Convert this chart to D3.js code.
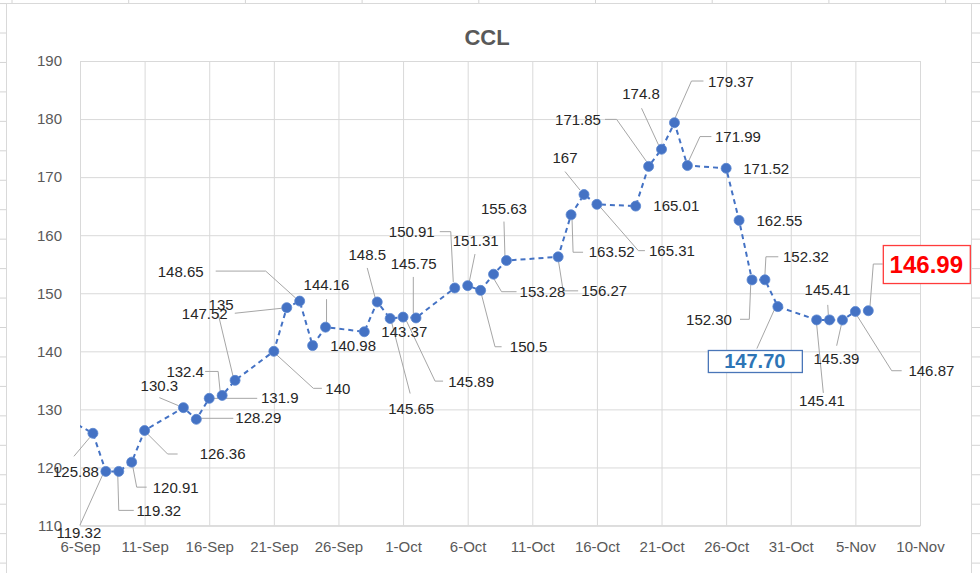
<!DOCTYPE html>
<html><head><meta charset="utf-8">
<script src="https://cdn.jsdelivr.net/npm/d3@7/dist/d3.min.js"></script>
<style>body{margin:0;background:#fff}svg{display:block}</style>
</head><body>
<svg id="chart" width="980" height="573"></svg>
<script>
// ---- data ----
const dates = ["2020-09-04","2020-09-07","2020-09-08","2020-09-09","2020-09-10","2020-09-11",
  "2020-09-14","2020-09-15","2020-09-16","2020-09-17","2020-09-18",
  "2020-09-21","2020-09-22","2020-09-23","2020-09-24","2020-09-25",
  "2020-09-28","2020-09-29","2020-09-30","2020-10-01","2020-10-02",
  "2020-10-05","2020-10-06","2020-10-07","2020-10-08","2020-10-09",
  "2020-10-13","2020-10-14","2020-10-15","2020-10-16",
  "2020-10-19","2020-10-20","2020-10-21","2020-10-22","2020-10-23",
  "2020-10-26","2020-10-27","2020-10-28","2020-10-29","2020-10-30",
  "2020-11-02","2020-11-03","2020-11-04","2020-11-05","2020-11-06"];
const values = [129.6,125.88,119.32,119.32,120.91,126.36,
  130.3,128.29,131.9,132.4,135,
  140,147.52,148.65,140.98,144.16,
  143.37,148.5,145.65,145.89,145.75,
  150.91,151.31,150.5,153.28,155.63,
  156.27,163.52,167,165.31,
  165.01,171.85,174.8,179.37,171.99,
  171.52,162.55,152.30,152.32,147.70,
  145.41,145.41,145.39,146.87,146.99];
const labelTexts = ["","125.88","119.32","119.32","120.91","126.36",
  "130.3","128.29","131.9","132.4","135",
  "140","147.52","148.65","140.98","144.16",
  "143.37","148.5","145.65","145.89","145.75",
  "150.91","151.31","150.5","153.28","155.63",
  "156.27","163.52","167","165.31",
  "165.01","171.85","174.8","179.37","171.99",
  "171.52","162.55","152.30","152.32","147.70",
  "145.41","145.41","145.39","146.87","146.99"];
const yTicks = [110,120,130,140,150,160,170,180,190];
const xTickLabels = ["6-Sep","11-Sep","16-Sep","21-Sep","26-Sep","1-Oct","6-Oct","11-Oct","16-Oct","21-Oct","26-Oct","31-Oct","5-Nov","10-Nov"];
const title = "CCL";

// ---- label layout (pixel offsets from each point; leader polyline relative to point) ----
const labelLayout = [
  null,
  [-17,38,[[-19,23],[-3,4]]],
  [-27,61,[[-26,54],[-3,3]]],
  [40,39,[[15,39],[0,39],[-1,4]]],
  [44,25,[[15,25],[5,25],[1,4]]],
  [78,23,[[33,23.5],[23,23.5],[3,3.5]]],
  [-24,-22,[[-24,-10],[-5,-2]]],
  [62,-2,[[37,-1],[3,-1]]],
  [70.5,-1,[[48,0],[4,0]]],
  [-37,-24,[[-17,-24],[-4,-24],[-2,-4]]],
  [-14,-76,[[-17,-67],[-2,-4]]],
  [64,37,[[48,37],[39.5,37],[3,3.7]]],
  [-82,5.6,[[-52,5.6],[-5,0.6]]],
  [-119,-29,[[-84,-30],[-34,-30],[-4,-3]]],
  [40.5,0,null],
  [1,-43,[[1,-28],[1,-4]]],
  [40,0,null],
  [-10,-47,[[-10,-34],[-2,-4]]],
  [21,90.5,[[20,75],[1.5,4]]],
  [68,64.6,[[40,64],[32,64],[3,3]]],
  [-2.3,-54.6,[[-2.7,-41],[-2.7,-4.6]]],
  [-43,-56.3,[[-15,-56.3],[-4,-56.3],[-1.5,-6]]],
  [8,-45,[[7.3,-31.6],[1.6,-4]]],
  [48,56.4,[[21,56.4],[14.4,56.4],[1,4.7]]],
  [49,17,[[23,17.5],[8,17.5],[0,4]]],
  [-2.5,-51.6,[[-2.5,-39],[-1.5,-4]]],
  [46,34,[[20,34],[5,34],[0.3,4]]],
  [40.6,37,[[12,37.5],[2,37.5],[1,5]]],
  [-19,-37,[[-19,-23],[-4,-4.5]]],
  [75,46,[[48,46.3],[41.4,46.3],[3,2.3]]],
  [40.6,0,null],
  [-70.6,-46.4,[[-43.6,-47],[-32,-47],[-2,-4.7]]],
  [-20.5,-55.3,[[-20,-41],[-3,-4.3]]],
  [56.5,-41,[[29,-41.7],[17,-41.7],[0.5,-4.4]]],
  [50.6,-29,[[24,-29],[12.6,-29],[1,-4]]],
  [40,0.7,null],
  [40.4,0,null],
  [-43,39.4,[[-12,39.4],[-2.7,39.4],[-1.3,5]]],
  [41,-23,[[13.4,-23],[1,-23],[0,-5]]],
  [-23,54.4,[[-21,42],[-3,2]]],
  [5.4,81,[[6.7,73],[0,4]]],
  [-2,-30,[[-1.8,-15],[-1.2,-5]]],
  [-6,39,[[-5.8,25.7],[-0.8,3.3]]],
  [76,59.3,[[46.3,59.3],[36.3,59.3],[1.3,3.6]]],
  [58,-46.7,[[14.4,-46.7],[5,-46.7],[1.7,-4.7]]]
];
const boxedLabels = {39:{text:"#2e75b6",stroke:"#4a76b8",size:20,w:94,h:22},
                     44:{text:"#ff0000",stroke:"#ff3b3b",size:24,w:87,h:38}};

// ---- drawing ----
const svg = d3.select("#chart");
const W = 980, H = 573;
const FONT = "'Liberation Sans', Arial, sans-serif";
const parse = d3.utcParse("%Y-%m-%d");
const pts = dates.map((d,i)=>({date:parse(d), v:values[i], i}));
const x0 = parse("2020-09-06"), x1 = parse("2020-11-10");
const L = 80, R = 920, T = 61, B = 525.5;
const x = d3.scaleUtc().domain([x0,x1]).range([L,R]);
const y = d3.scaleLinear().domain([110,190]).range([B,T]);
const tickDates = xTickLabels.map((_,k)=>d3.utcDay.offset(x0,5*k));

// spreadsheet cells behind chart
const bg = svg.append("g");
bg.append("rect").attr("width",W).attr("height",H).attr("fill","#fff");
for(let k=-1;k<20;k++){
  const yy = 33 + 29.45*k;
  bg.append("line").attr("x1",0).attr("x2",6).attr("y1",yy).attr("y2",yy).attr("stroke","#d4d4d4");
  bg.append("line").attr("x1",972).attr("x2",980).attr("y1",yy).attr("y2",yy).attr("stroke","#d4d4d4");
}
for(let k=0;k<9;k++){
  const xx = 12 + 116.7*k;
  bg.append("line").attr("x1",xx).attr("x2",xx).attr("y1",0).attr("y2",3).attr("stroke","#d4d4d4");
}
svg.append("rect").attr("x",6.5).attr("y",3.5).attr("width",965).attr("height",580)
  .attr("fill","#fff").attr("stroke","#d9d9d9");

// title
svg.append("text").attr("x",487).attr("y",45).attr("text-anchor","middle")
  .attr("font-family",FONT).attr("font-weight","bold").attr("font-size",22)
  .attr("fill","#595959").text(title);

// axes with gridlines
const gy = svg.append("g").attr("transform",`translate(${L},0)`)
  .call(d3.axisLeft(y).tickValues(yTicks).tickSize(-(R-L)).tickPadding(18).tickFormat(d3.format("d")));
const gx = svg.append("g").attr("transform",`translate(0,${B})`)
  .call(d3.axisBottom(x).tickValues(tickDates).tickSize(-(B-T)).tickPadding(15.5)
    .tickFormat((d,k)=>xTickLabels[k]));
[gx,gy].forEach(g=>{
  g.select(".domain").attr("stroke","#d9d9d9");
  g.selectAll(".tick line").attr("stroke","#d9d9d9");
  g.selectAll(".tick text").attr("fill","#595959").attr("font-family",FONT).attr("font-size",15);
});

// clip
svg.append("defs").append("clipPath").attr("id","plot")
  .append("rect").attr("x",L).attr("y",T-10).attr("width",R-L+10).attr("height",B-T+20);

const visible = pts.filter(p=>p.date>=x0 && p.date<=x1);

// leaders
const leaderG = svg.append("g");
visible.forEach(p=>{
  const lay = labelLayout[p.i];
  if(!lay || !lay[2]) return;
  const px = x(p.date), py = y(p.v);
  leaderG.append("path")
    .attr("d", d3.line()(lay[2].map(q=>[px+q[0],py+q[1]])))
    .attr("fill","none").attr("stroke","#a6a6a6").attr("stroke-width",1);
});

// series
const sg = svg.append("g").attr("clip-path","url(#plot)");
sg.append("path").datum(pts)
  .attr("d", d3.line().x(d=>x(d.date)).y(d=>y(d.v)))
  .attr("fill","none").attr("stroke","#4472c4").attr("stroke-width",2)
  .attr("stroke-dasharray","5,4");
sg.selectAll("circle").data(pts).join("circle")
  .attr("cx",d=>x(d.date)).attr("cy",d=>y(d.v)).attr("r",5)
  .attr("fill","#4472c4").attr("stroke","#5b87d0").attr("stroke-width",0.8);

// labels
const lg = svg.append("g");
visible.forEach(p=>{
  const lay = labelLayout[p.i];
  if(!lay) return;
  const cx = x(p.date)+lay[0], cy = y(p.v)+lay[1];
  const box = boxedLabels[p.i];
  if(box){
    lg.append("rect").attr("x",cx-box.w/2+0.5).attr("y",cy-box.h/2+0.5)
      .attr("width",box.w).attr("height",box.h)
      .attr("fill","#fff").attr("stroke",box.stroke).attr("stroke-width",1.3);
    lg.append("text").attr("x",cx).attr("y",cy).attr("dy","0.36em")
      .attr("text-anchor","middle").attr("font-family",FONT).attr("font-weight","bold")
      .attr("font-size",box.size).attr("fill",box.text).text(labelTexts[p.i]);
  } else {
    lg.append("text").attr("x",cx).attr("y",cy).attr("dy","0.36em")
      .attr("text-anchor","middle").attr("font-family",FONT)
      .attr("font-size",15).attr("fill","#262626").text(labelTexts[p.i]);
  }
});
</script>
</body></html>
